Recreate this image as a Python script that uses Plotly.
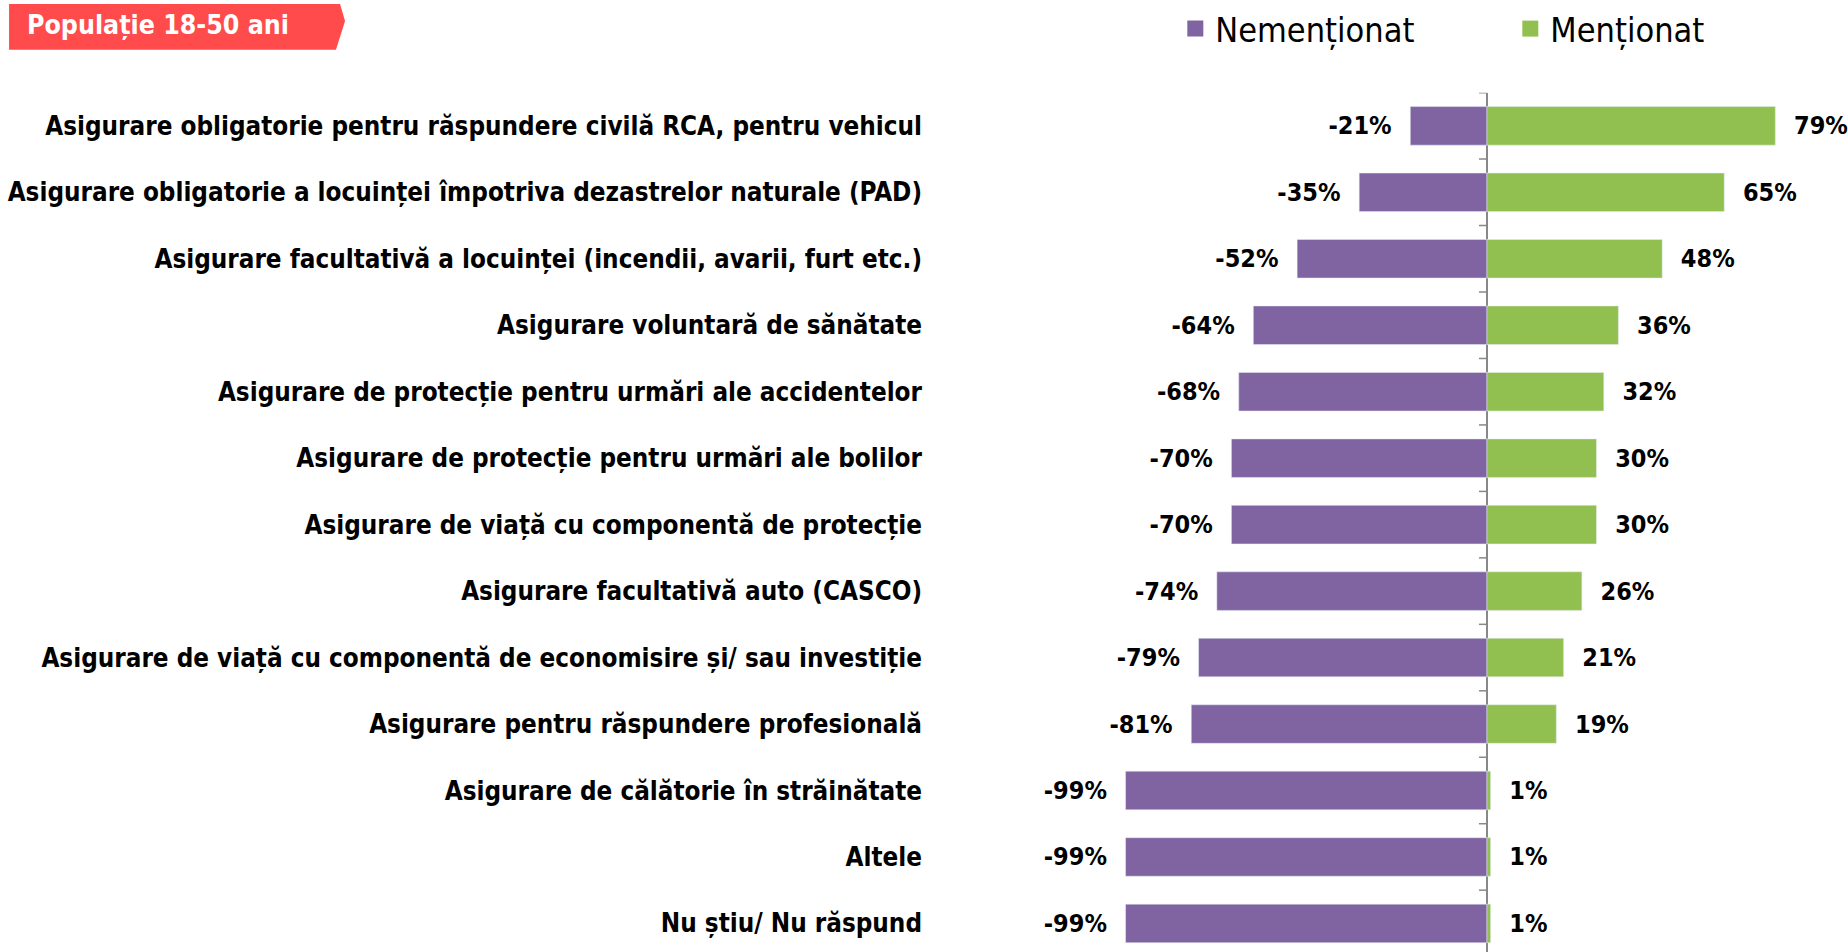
import plotly.graph_objects as go

W, H = 1848, 952

categories = [
    "Asigurare obligatorie pentru răspundere civilă RCA, pentru vehicul",
    "Asigurare obligatorie a locuinței împotriva dezastrelor naturale (PAD)",
    "Asigurare facultativă a locuinței (incendii, avarii, furt etc.)",
    "Asigurare voluntară de sănătate",
    "Asigurare de protecție pentru urmări ale accidentelor",
    "Asigurare de protecție pentru urmări ale bolilor",
    "Asigurare de viață cu componentă de protecție",
    "Asigurare facultativă auto (CASCO)",
    "Asigurare de viață cu componentă de economisire și/ sau investiție",
    "Asigurare pentru răspundere profesională",
    "Asigurare de călătorie în străinătate",
    "Altele",
    "Nu știu/ Nu răspund",
]
nementionat = [-21, -35, -52, -64, -68, -70, -70, -74, -79, -81, -99, -99, -99]
mentionat = [79, 65, 48, 36, 32, 30, 30, 26, 21, 19, 1, 1, 1]

PURPLE = "#8064A2"
GREEN = "#92C050"
FONT = "DejaVu Sans Condensed, Tahoma, DejaVu Sans, sans-serif"
NB = "\u00a0"

fig = go.Figure()
fig.add_trace(go.Bar(
    y=categories, x=nementionat, orientation="h", name="Nemenționat",
    marker=dict(color=PURPLE), showlegend=False,
    text=[f"{v}%" + NB * 2 for v in nementionat], texttemplate="%{text}",
    textposition="outside", cliponaxis=False, constraintext="none",
    textfont=dict(family=FONT, size=25, color="black", weight="bold"),
))
fig.add_trace(go.Bar(
    y=categories, x=mentionat, orientation="h", name="Menționat",
    marker=dict(color=GREEN), showlegend=False,
    text=[NB * 2 + f"{v}%" for v in mentionat], texttemplate="%{text}",
    textposition="outside", cliponaxis=False, constraintext="none",
    textfont=dict(family=FONT, size=25, color="black", weight="bold"),
))

# legend entries with larger squares
for name, col in [("Nemenționat", PURPLE), ("Menționat", GREEN)]:
    fig.add_trace(go.Scatter(
        x=[None], y=[None], mode="markers", name=name,
        marker=dict(symbol="square", size=18, color=col),
    ))

# little tick marks on the zero axis
shapes = []
for i in range(len(categories) + 1):
    shapes.append(dict(type="line", xref="x", yref="y", xsizemode="pixel",
                       xanchor=0, x0=-8, x1=0, y0=i - 0.5, y1=i - 0.5,
                       line=dict(color="#888888", width=1.5)))

# red title badge
shapes.append(dict(type="path", xref="paper", yref="paper",
                   path="M 0.0049 1 L 0.184 1 L 0.1867 0.9821 L 0.1818 0.9517 L 0.0049 0.9517 Z",
                   fillcolor="#FF4B4B", line=dict(width=0), layer="above"))

fig.update_layout(
    width=W, height=H,
    margin=dict(l=0, r=0, t=0, b=0),
    plot_bgcolor="white", paper_bgcolor="white",
    barmode="relative", bargap=0.42,
    font=dict(family=FONT, color="black"),
    shapes=shapes,
    legend=dict(orientation="h", x=0.636, y=0.974, xanchor="left", yanchor="middle",
                font=dict(family=FONT, size=34, color="black"),
                itemsizing="trace", entrywidth=290, entrywidthmode="pixels",
                bgcolor="rgba(0,0,0,0)"),
    annotations=[dict(text="<b>Populație 18-50 ani</b>", xref="paper", yref="paper",
                      x=0.0135, y=0.978, xanchor="left", yanchor="middle", showarrow=False,
                      font=dict(family=FONT, size=26.5, color="white"))],
)
fig.update_xaxes(domain=[935 / W, 1], range=[-151.2, 98.9], showgrid=False,
                 showticklabels=False, zeroline=True, zerolinecolor="#888888",
                 zerolinewidth=1.5, fixedrange=True)
fig.update_yaxes(domain=[0, (H - 89) / H], range=[12.43, -0.5], showgrid=False,
                 ticks="", ticklabelstandoff=12, zeroline=False,
                 tickfont=dict(family=FONT, size=25.8, color="black", weight="bold"))

# page body has a default 8px margin; remove it so the figure fills the window
fig.write_html("out.html", config={"displayModeBar": False},
               post_script="document.body.style.margin='0px';")
